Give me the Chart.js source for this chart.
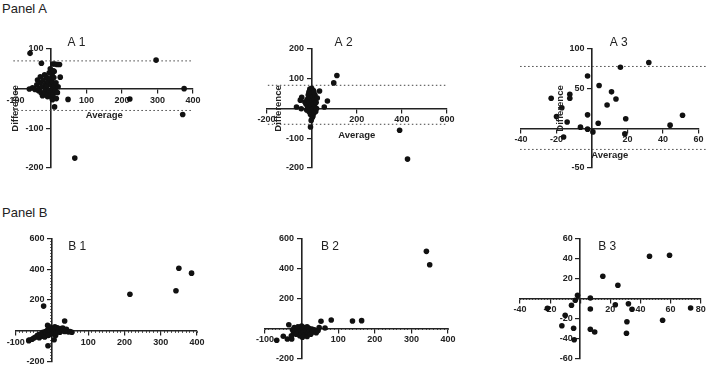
<!DOCTYPE html>
<html>
<head>
<meta charset="utf-8">
<script src="https://cdn.jsdelivr.net/npm/chart.js@4.4.1/dist/chart.umd.min.js"></script>
<style>
  body { margin: 0; background: #fff; width: 709px; height: 369px; overflow: hidden; position: relative;
         font-family: "Liberation Sans", Arial, sans-serif; }
  .box { position: absolute; }
  .panel { position: absolute; left: 2px; font-size: 13px; line-height: 15px; color: #222; }
</style>
</head>
<body>
<div class="panel" style="top:1px">Panel A</div>
<div class="panel" style="top:205px">Panel B</div>
<div class="box" id="boxA1"><canvas id="a1"></canvas></div>
<div class="box" id="boxA2"><canvas id="a2"></canvas></div>
<div class="box" id="boxA3"><canvas id="a3"></canvas></div>
<div class="box" id="boxB1"><canvas id="b1"></canvas></div>
<div class="box" id="boxB2"><canvas id="b2"></canvas></div>
<div class="box" id="boxB3"><canvas id="b3"></canvas></div>
<script>
/* ---------------- data ---------------- */
// Panel A: Bland-Altman, x = average, y = difference
const a1Average = [-59, -27, 296, 375, 371, 222, 48, 10, 67, 5, 11, 17, 24, 9, 3, 26, -61, -52,
  -45, -40, -38, -35, -33, -30, -30, -28, -25, -24, -22, -20, -18, -17, -15, -15, -12, -10, -10, -8,
  -7, -5, -5, -3, -2, 0, 0, 2, 3, 4, 5, 6, 7, 8, 10, 12, 14, 15, 18, 20];
const a1Difference = [89, 64, 72, 0, -65, -26, -27, -46, -175, 62, 62, 61, 61, 43, 35, 29, -1, 2,
  -2, 10, 22, -5, 0, 15, 30, -10, 5, -18, 22, -15, 35, -8, 0, 12, 28, -20, 8, 18,
  -12, -5, 40, 25, 50, -10, 10, -22, 18, -28, 0, -15, 45, 28, 8, -5, 15, -25, -10, 5];
const a1Limits = [70, -55];
const a1XTicks = [-100, 0, 100, 200, 300, 400];
const a1YTicks = [-200, -100, 0, 100];

const a2Average = [112, 98, 390, 425, -5, -67, -46, 35, 70, 56, -50, -44,
  -30, -25, -22, -20, -18, -15, -12, -12, -10, -8, -8, -5, -5, -3, -2, 0, 0, 0, 2, 3,
  5, 5, 6, 8, 8, 10, 10, 12, 14, 15, 18, 20, 22, 25];
const a2Difference = [111, 86, -73, -170, -62, 5, -1, 59, 25, 5, 28, 38,
  22, 15, -5, 30, 5, 45, -10, 55, 20, 65, 2, 35, -20, 10, -40, 68, 50, -5, 25, -30,
  40, 0, -25, 15, 60, -15, 55, 30, 5, 45, -10, 20, 0, 35];
const a2Limits = [78, -53];
const a2XTicks = [-200, 0, 200, 400, 600];
const a2YTicks = [-200, -100, 0, 100, 200];

const a3Average = [-23, -20, -17, -16, -14, -12.5, -12.5, -6.5, -2.5, -2.5, -2.5, 0.5, 3.5, 4,
  8.5, 11, 13.5, 16, 19, 18.5, 32, 44, 51];
const a3Difference = [38, 15, 26, -11, 8, 43, 38, 1.5, 66, 17, -1, -4.5, 6.5, 54,
  29.5, 46, 37, 77, 12, -7, 83, 4, 16.5];
const a3Limits = [78, -26.6];
const a3XTicks = [-40, -20, 0, 20, 40, 60];
const a3YTicks = [-50, 0, 50, 100];

// Panel B
const b1X = [350, 385, 342, 215, -23, 35, -11, -12, -64, 6, -50, -63,
  -55, -45, -40, -35, -35, -30, -28, -25, -20, -20, -18, -15, -12, -10, -8, -5, -5, -3, 0, 0,
  3, 5, 8, 10, 10, 12, 15, 18, 20, 22, 25, 28, 30, 32, 35, 40, 45, 50, 55];
const b1Y = [406, 374, 260, 237, 160, 63, -97, 35, -64, -58, -47, -60,
  -55, -40, -30, -45, -25, -20, -35, -10, -25, -40, -5, -15, 5, -30, 10, -10, 5, 20, 0, -20,
  15, -5, 25, 5, -30, -15, 20, 0, 10, -10, 15, 0, 18, 5, -5, 10, -8, -5, -10];
const b1XTicks = [-100, 0, 100, 200, 300, 400];
const b1YTicks = [-200, 0, 200, 400, 600];

const b2X = [341, 350, 164, 139, 81, 53, 64, -35, -68, -50, -39, -27,
  -28, -25, -22, -20, -18, -15, -12, -10, -8, -5, -5, -2, 0, 0, 2, 3, 5, 8, 10, 12,
  15, 15, 18, 20, 22, 25, 28, 30, 35, 40, 45, 48];
const b2Y = [513, 424, 51, 49, 55, 47, 2, 24, -80, -53, -71, -71,
  -50, -10, -30, 5, -20, -40, -5, 10, -25, -50, 0, -15, -35, 15, -60, -5, -25, 5, -45, -15,
  10, -55, -30, 0, -20, -40, -5, -25, -10, -30, -15, 5];
const b2XTicks = [-100, 0, 100, 200, 300, 400];
const b2YTicks = [-200, 0, 200, 400, 600];

const b3X = [46, 59.3, 15, 25, -1.8, 6.7, -3.3, -5.8, -21.8, 6.7, 23.3, 32, 34.4, 73.3, 54.7,
  31, 30.7, -10, -12.2, -4.4, -4, 6.7, 9.6];
const b3Y = [42, 43, 22, 13, 3, 0.3, -2, -7, -10, -10.7, -6.4, -5.4, -11, -9.7, -22,
  -23.4, -35, -17, -27.4, -30, -41.4, -31, -33.7];
const b3XTicks = [-40, -20, 0, 20, 40, 60, 80];
const b3YTicks = [-60, -40, -20, 0, 20, 40, 60];

/* ---------------- helpers ---------------- */
const FONT = '"Liberation Sans", Arial, sans-serif';
const INK = "#222";

// text drawn on top: panel title, axis titles
const panelText = {
  id: "panelText",
  afterDraw(chart, args, o) {
    const { ctx, chartArea: a, scales: { x, y } } = chart;
    const x0 = x.getPixelForValue(0);
    const y0 = y.getPixelForValue(0);
    ctx.save();
    ctx.fillStyle = INK;
    ctx.textAlign = "center";
    ctx.textBaseline = "middle";
    ctx.font = "12px " + FONT;
    ctx.fillText(o.title, x0 + o.titleDx, a.top + o.titleDy);
    if (o.axisTitles) {
      ctx.font = "bold 9.5px " + FONT;
      ctx.fillText("Average", (a.left + a.right) / 2, y0 + 27);
      ctx.translate(x0 - o.diffDx, (a.top + a.bottom) / 2);
      ctx.rotate(-Math.PI / 2);
      ctx.fillText("Difference", 0, 0);
    }
    ctx.restore();
  },
};

function mainAxis(ticks, position, vertical) {
  return {
    type: "linear",
    position,
    min: Math.min(...ticks),
    max: Math.max(...ticks),
    afterBuildTicks: (s) => { s.ticks = ticks.map((v) => ({ value: v })); },
    ticks: {
      // a y axis placed at x = 0 puts its labels flush on the line, so pad them
      callback: (v) => (v === 0 ? "" : vertical ? v + "   " : v),
      font: { family: FONT, size: 9, weight: "bold" },
      color: INK,
      padding: 2,
      maxRotation: 0,
      autoSkip: false,
    },
    grid: { drawOnChartArea: false, drawTicks: true, tickLength: 4, color: INK, lineWidth: 1.2 },
    border: { display: true, color: INK, width: 1.6 },
  };
}

function minorAxis(axis, ticks, step, position) {
  const min = Math.min(...ticks);
  const max = Math.max(...ticks);
  return {
    type: "linear",
    axis,
    position,
    min,
    max,
    afterBuildTicks: (s) => {
      s.ticks = [];
      for (let v = min; v <= max + 1e-9; v += step) s.ticks.push({ value: v });
    },
    ticks: { display: false, autoSkip: false },
    grid: { drawOnChartArea: false, drawTicks: true, tickLength: 2, color: "#333", lineWidth: 0.8 },
    border: { display: false },
  };
}

function buildPanel(id, p) {
  const box = document.getElementById("box" + id.toUpperCase());
  Object.assign(box.style, {
    left: p.box[0] + "px", top: p.box[1] + "px", width: p.box[2] + "px", height: p.box[3] + "px",
  });

  const datasets = [{
    type: "scatter",
    data: p.xs.map((v, i) => ({ x: v, y: p.ys[i] })),
    pointRadius: 2.8,
    pointBackgroundColor: "#111",
    pointBorderWidth: 0,
  }];
  (p.limits || []).forEach((l) => {
    datasets.push({
      type: "line",
      data: [{ x: p.limitSpan[0], y: l }, { x: p.limitSpan[1], y: l }],
      borderColor: "#444",
      borderWidth: 1,
      borderDash: [1.5, 2.5],
      pointRadius: 0,
      clip: false,
    });
  });

  const scales = { x: mainAxis(p.xTicks, { y: 0 }, false), y: mainAxis(p.yTicks, { x: 0 }, true) };
  if (p.xMinor) scales.xMinor = minorAxis("x", p.xTicks, p.xMinor, { y: 0 });
  if (p.yMinor) scales.yMinor = minorAxis("y", p.yTicks, p.yMinor, { x: 0 });

  new Chart(document.getElementById(id), {
    type: "scatter",
    data: { datasets },
    plugins: [panelText],
    options: {
      responsive: true,
      maintainAspectRatio: false,
      animation: false,
      devicePixelRatio: 1,
      layout: {
        padding: {
          left: p.area[0] - p.box[0],
          top: p.area[1] - p.box[1],
          right: p.box[0] + p.box[2] - p.area[2],
          bottom: p.box[1] + p.box[3] - p.area[3],
        },
      },
      scales,
      plugins: {
        legend: { display: false },
        tooltip: { enabled: false },
        panelText: p.text,
      },
    },
  });
}

/* ---------------- panels ---------------- */
buildPanel("a1", {
  box: [0, 30, 230, 170], area: [15.5, 49, 193, 168],
  xs: a1Average, ys: a1Difference, xTicks: a1XTicks, yTicks: a1YTicks,
  limits: a1Limits, limitSpan: [-106, 397],
  text: { title: "A 1", titleDx: 25.5, titleDy: -6, axisTitles: true, diffDx: 35.5 },
});
buildPanel("a2", {
  box: [230, 30, 230, 170], area: [266.5, 49, 447, 168],
  xs: a2Average, ys: a2Difference, xTicks: a2XTicks, yTicks: a2YTicks,
  limits: a2Limits, limitSpan: [-194, 600],
  text: { title: "A 2", titleDx: 32, titleDy: -6, axisTitles: true, diffDx: 33.5 },
});
buildPanel("a3", {
  box: [460, 30, 249, 170], area: [521, 49, 698.5, 168],
  xs: a3Average, ys: a3Difference, xTicks: a3XTicks, yTicks: a3YTicks,
  limits: a3Limits, limitSpan: [-40.5, 64],
  text: { title: "A 3", titleDx: 26.7, titleDy: -6, axisTitles: true, diffDx: 31.6 },
});
buildPanel("b1", {
  box: [0, 210, 230, 159], area: [15.7, 238.3, 197, 362.7],
  xs: b1X, ys: b1Y, xTicks: b1XTicks, yTicks: b1YTicks, xMinor: 10, yMinor: 20,
  text: { title: "B 1", titleDx: 25.3, titleDy: 8.7 },
});
buildPanel("b2", {
  box: [230, 210, 230, 159], area: [265, 238.3, 448, 358.3],
  xs: b2X, ys: b2Y, xTicks: b2XTicks, yTicks: b2YTicks, xMinor: 10,
  text: { title: "B 2", titleDx: 28.3, titleDy: 8.7 },
});
buildPanel("b3", {
  box: [460, 210, 249, 159], area: [520, 238.3, 700.7, 358.3],
  xs: b3X, ys: b3Y, xTicks: b3XTicks, yTicks: b3YTicks, xMinor: 2,
  text: { title: "B 3", titleDx: 27, titleDy: 8.7 },
});
</script>
</body>
</html>
